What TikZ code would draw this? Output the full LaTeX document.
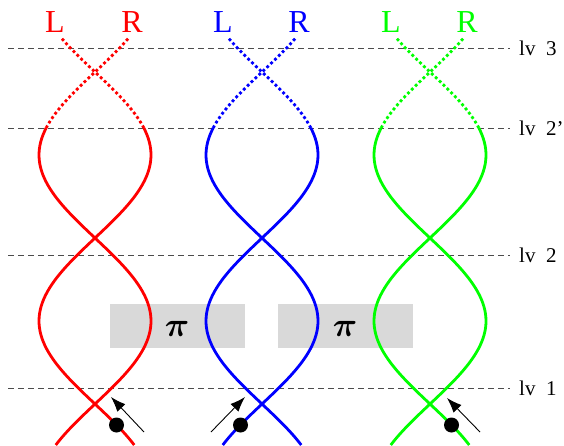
\RequirePackage{fix-cm}
\documentclass[tikz,border=0pt]{standalone}
\usepackage{fontspec}
\setmainfont{Liberation Serif}
\usetikzlibrary{arrows.meta}
\begin{document}
\begin{tikzpicture}[x=1pt,y=-1pt,
  lvline/.style={draw=black!70, dash pattern=on 6pt off 4pt, line width=0.8pt},
  strand/.style={line width=2.8pt},
  dotpart/.style={line width=2.8pt, dash pattern=on 2.8pt off 2.6pt},
  pibox/.style={fill=black!15, draw=none, minimum width=135pt, minimum height=44pt, inner sep=0pt},
  lvlabel/.style={anchor=west, font=\fontsize{21}{21}\selectfont, inner sep=0pt},
  toplabel/.style={font=\fontsize{32}{32}\selectfont, inner sep=0pt},
  pilabel/.style={font=\fontsize{34}{34}\selectfont\boldmath, inner sep=0pt},
  marker/.style={circle, fill=black, minimum size=15pt, inner sep=0pt},
  pointer/.style={line width=0.9pt, -{Latex[length=15pt,width=11pt]}}
]
\useasboundingbox (0,0) rectangle (564,445);
% level lines
\foreach \yy/\name/\txt in {48/l3/lv\ \ 3, 128/l2p/lv\ \ 2’, 255/l2/lv\ \ 2, 388/l1/lv\ \ 1}{
  \coordinate (\name s) at (8,\yy);
  \coordinate (\name e) at (510,\yy);
  \draw[lvline] (\name s) -- (\name e);
  \node[lvlabel] (\name t) at (519,\yy) {\txt};
}
% pi boxes
\node[pibox] (box1) at (177.5,325.5) {};
\node[pibox] (box2) at (345.5,325.5) {};
\node[pilabel] (pi1) at (177,329) {$\pi$};
\node[pilabel] (pi2) at (345,329) {$\pi$};
% strands
\foreach \c/\col in {95/red, 262/blue, 430/green}{
  \foreach \s in {1,-1}{
    \draw[strand, \col] plot[domain=445:128, samples=90, smooth] ({\c + \s*56*sin(1.0843*(404-\x))}, \x);
    \draw[dotpart, \col] plot[domain=128:38, samples=40, smooth] ({\c + \s*56*sin(1.0843*(404-\x))}, \x);
  }
}
% top labels
\node[toplabel, text=red] (L1) at (55,22) {L};
\node[toplabel, text=red] (R1) at (132,22) {R};
\node[toplabel, text=blue] (L2) at (223,22) {L};
\node[toplabel, text=blue] (R2) at (299,22) {R};
\node[toplabel, text=green] (L3) at (391,22) {L};
\node[toplabel, text=green] (R3) at (467,22) {R};
% markers and pointers
\node[marker] (m1) at (116.5,425) {};
\node[marker] (m2) at (240.5,425) {};
\node[marker] (m3) at (451.5,425) {};
\coordinate (t1) at (144,432); \coordinate (h1) at (111,397);
\coordinate (t2) at (211,432); \coordinate (h2) at (245,397);
\coordinate (t3) at (480,432); \coordinate (h3) at (447,398);
\draw[pointer] (t1) -- (h1);
\draw[pointer] (t2) -- (h2);
\draw[pointer] (t3) -- (h3);
\end{tikzpicture}
\end{document}
